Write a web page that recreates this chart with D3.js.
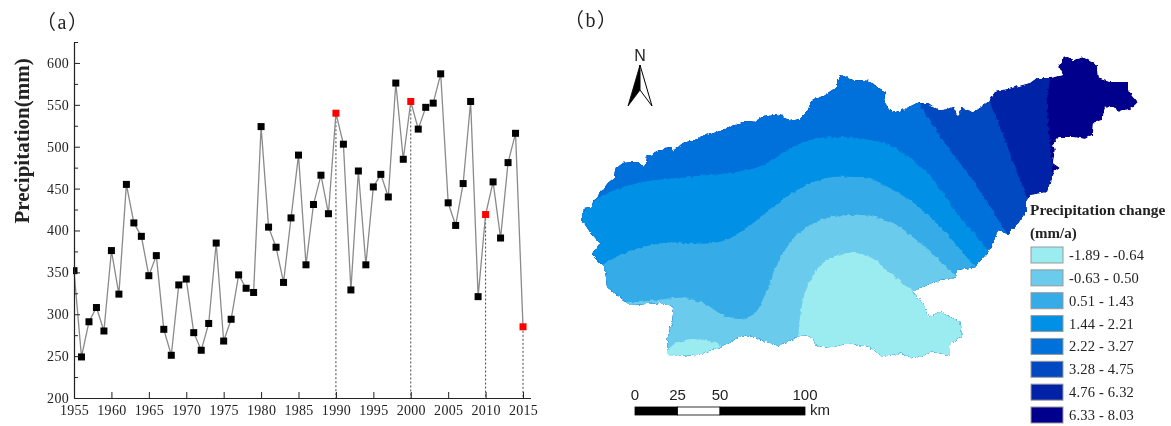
<!DOCTYPE html>
<html>
<head>
<meta charset="UTF-8">
<style>
  html,body{margin:0;padding:0;background:#fff;}
  svg{display:block;}
  text{fill:#222;}
  .serif{font-family:"Liberation Serif","Noto Sans CJK SC",serif;}
  .sans{font-family:"Liberation Sans",sans-serif;}
</style>
<script src="https://d3js.org/d3.v7.min.js"></script>
</head>
<body>
<div id="viz"></div>
<script>
// (a) annual precipitation
const years = d3.range(1955, 2016);
const precipitation = [352,249,291,308,280,376,324,455,409,393,346,370,282,251,335,342,278,257,289,385,
  268,294,347,331,326,524,404,380,338,415,490,359,431,466,420,540,503,329,471,359,
  452,467,440,576,485,554,521,547,552,587,433,406,456,554,321,419,458,391,481,516,285];
const markedYears = [1990, 2000, 2010, 2015];
const xTicks = d3.range(1955, 2016, 5);
const yTicks = d3.range(200, 601, 50);
const yMinorTicks = d3.range(225, 626, 50);

// (b) map, digitised in grid units (east, south), 1.7 units to the km
const basinOutline = [[2,170],[4,158],[12,157],[13,152],[20,143],[28,133],[35,127],[37,117],[42,113],[57,112],[62,117],[66,115],[67,107],[77,101],[90,98],[93,101],[103,93],[118,89],[125,83],[128,85],[143,80],[165,71],[177,72],[180,67],[193,64],[200,65],[210,71],[220,69],[227,62],[232,50],[243,46],[257,37],[257,32],[261,25],[273,30],[290,31],[297,37],[306,42],[303,50],[312,63],[323,60],[337,53],[348,53],[360,61],[373,57],[378,67],[382,58],[393,62],[408,52],[415,42],[432,38],[450,33],[457,28],[470,28],[483,25],[478,17],[485,5],[493,10],[503,7],[517,15],[518,28],[530,32],[547,32],[550,42],[558,52],[552,58],[540,62],[532,57],[525,58],[522,70],[513,73],[512,85],[505,89],[493,87],[478,87],[473,93],[475,100],[473,113],[480,118],[473,123],[467,142],[450,145],[445,153],[447,160],[437,175],[427,185],[418,180],[413,193],[408,202],[395,217],[377,220],[377,227],[360,230],[343,237],[332,242],[343,253],[348,267],[360,262],[380,272],[382,287],[370,293],[370,305],[353,302],[333,308],[320,303],[303,307],[290,297],[268,293],[250,298],[235,295],[233,287],[223,285],[197,296],[187,292],[167,285],[157,288],[140,297],[117,305],[90,306],[87,302],[88,287],[92,273],[94,258],[80,253],[50,255],[27,237],[25,218],[12,205],[20,193],[10,182]];

// class boundaries, each one with the corners that close its band off the map
const contour632 = [[470,0],[470,28],[467,53],[472,110],[472,120]];
const closing632 = [[472,330],[-10,330],[-10,-10],[470,-10]];
const contour475 = [[405,40],[410,52],[420,77],[447,148],[452,160]];
const closing475 = [[452,330],[-10,330],[-10,-10],[405,-10]];
const contour327 = [[330,40],[338,53],[363,90],[397,137],[428,185],[435,195]];
const closing327 = [[435,330],[-10,330],[-10,-10],[330,-10]];
const contour221 = [[0,165],[12,153],[30,142],[57,133],[107,127],[157,122],[183,115],[207,100],[230,90],[257,87],[290,90],[313,97],[347,123],[380,167],[410,202],[420,215]];
const closing221 = [[420,330],[-10,330],[-10,165]];
const contour143 = [[15,222],[23,215],[47,202],[83,193],[133,193],[157,185],[183,165],[217,140],[247,128],[273,127],[290,128],[300,133],[330,150],[363,180],[395,217],[402,225]];
const closing143 = [[402,330],[-10,330],[-10,222]];
const contour050 = [[60,252],[78,250],[103,248],[123,253],[143,265],[160,269],[175,263],[187,240],[203,203],[223,180],[250,167],[273,165],[290,166],[313,173],[340,193],[377,227],[385,235]];
const closing050 = [[385,330],[-10,330],[-10,252]];
const contourLobe = [[217,310],[218,290],[220,267],[227,237],[243,213],[267,203],[290,207],[310,223],[332,240],[345,250]];
const closingLobe = [[420,250],[420,330],[217,330]];
const contourWest = [[80,310],[86,303],[93,295],[113,289],[140,295],[146,300]];
const closingWest = [[146,330],[80,330]];

const legendLabels = ["-1.89 - -0.64","-0.63 - 0.50","0.51 - 1.43","1.44 - 2.21","2.22 - 3.27","3.28 - 4.75","4.76 - 6.32","6.33 - 8.03"];
const legendColors = ["#9aecf0","#6bcbed","#35ace8","#0590e6","#0470da","#0449c0","#0222a6","#00008c"];
const scaleKm = [0, 25, 50, 100];

const svg = d3.select("#viz").append("svg").attr("width", 1171).attr("height", 426);

// the scan is soft and the coast is toothy
const defs = svg.append("defs");
defs.append("filter").attr("id", "soft")
  .append("feGaussianBlur").attr("stdDeviation", 0.35);
const rough = defs.append("filter").attr("id", "rough")
    .attr("filterUnits", "userSpaceOnUse")
    .attr("x", 570).attr("y", 40).attr("width", 590).attr("height", 340);
rough.append("feTurbulence").attr("type", "fractalNoise").attr("baseFrequency", 0.22)
    .attr("numOctaves", 2).attr("seed", 4).attr("result", "n");
rough.append("feDisplacementMap").attr("in", "SourceGraphic").attr("in2", "n")
    .attr("scale", 4).attr("xChannelSelector", "R").attr("yChannelSelector", "G");

const root = svg.append("g").attr("filter", "url(#soft)");

// ---- panel a
const x = d3.scaleLinear().domain([1955, 2016]).range([74, 530.5]);
const y = d3.scaleLinear().domain([200, 625]).range([398, 42]);
const a = root.append("g");

a.append("text").attr("class", "serif").attr("x", 36).attr("y", 29)
    .attr("font-size", 20).attr("letter-spacing", 1.5).text("（a）");

a.append("text").attr("class", "serif")
    .attr("transform", "translate(29,141) rotate(-90)")
    .attr("text-anchor", "middle").attr("font-size", 21).attr("font-weight", "bold")
    .text("Precipitation(mm)");

a.append("defs").append("clipPath").attr("id", "plot")
  .append("rect").attr("x", 73).attr("y", 30).attr("width", 470).attr("height", 380);

a.selectAll(".drop").data(markedYears).join("line")
    .attr("class", "drop")
    .attr("x1", d => x(d)).attr("x2", d => x(d))
    .attr("y1", d => y(precipitation[years.indexOf(d)])).attr("y2", y(200))
    .attr("stroke", "#444").attr("stroke-width", 1).attr("stroke-dasharray", "2,2");

const plot = a.append("g").attr("clip-path", "url(#plot)");
plot.append("path").datum(precipitation)
    .attr("fill", "none").attr("stroke", "#8a8a8a").attr("stroke-width", 1.3)
    .attr("d", d3.line().x((d, i) => x(years[i])).y(d => y(d)));
plot.selectAll("rect").data(precipitation).join("rect")
    .attr("x", (d, i) => x(years[i]) - 3.5).attr("y", d => y(d) - 3.5)
    .attr("width", 7).attr("height", 7)
    .attr("fill", (d, i) => markedYears.includes(years[i]) ? "#f00" : "#000");

const gx = a.append("g").attr("transform", `translate(0,${y(200)})`)
    .call(d3.axisBottom(x).tickValues(xTicks).tickFormat(d3.format("d")).tickSize(-6).tickSizeOuter(0).tickPadding(7));
const gy = a.append("g").attr("transform", `translate(${x(1955)},0)`)
    .call(d3.axisLeft(y).tickValues(yTicks).tickSize(-6).tickSizeOuter(0).tickPadding(5));
a.append("g").attr("transform", `translate(${x(1955)},0)`)
    .call(d3.axisLeft(y).tickValues(yMinorTicks).tickFormat("").tickSize(-4).tickSizeOuter(0))
    .select(".domain").remove();
a.selectAll(".domain").attr("stroke", "#222").attr("stroke-width", 1.2);
a.selectAll(".tick line").attr("stroke", "#222").attr("stroke-width", 1);
[gx, gy].forEach(g => g.selectAll("text")
    .attr("class", "serif").attr("font-size", 14).attr("letter-spacing", 0.3).style("fill", "#222"));

// ---- panel b
const gridX = d3.scaleLinear().domain([0, 591]).range([580, 1171]);
const gridY = d3.scaleLinear().domain([0, 376]).range([50, 426]);
const b = root.append("g");

b.append("text").attr("class", "serif").attr("x", 564).attr("y", 27)
    .attr("font-size", 20).attr("letter-spacing", 1.5).text("（b）");

const ring = d3.line().x(d => gridX(d[0])).y(d => gridY(d[1]));
const smooth = d3.line().x(d => gridX(d[0])).y(d => gridY(d[1])).curve(d3.curveCatmullRom);
const band = (contour, closing) => smooth(contour) + ring(closing).replace("M", "L") + "Z";

b.append("defs").append("clipPath").attr("id", "basin")
  .append("path").attr("d", ring(basinOutline) + "Z");

const map = b.append("g").attr("filter", "url(#rough)").append("g").attr("clip-path", "url(#basin)");
map.append("path").attr("d", ring(basinOutline) + "Z").attr("fill", legendColors[7]);
const bands = [
  [contour632, closing632, 6],
  [contour475, closing475, 5],
  [contour327, closing327, 4],
  [contour221, closing221, 3],
  [contour143, closing143, 2],
  [contour050, closing050, 1],
  [contourLobe, closingLobe, 0],
  [contourWest, closingWest, 0]
];
map.selectAll(".band").data(bands).join("path")
    .attr("class", "band")
    .attr("d", d => band(d[0], d[1]))
    .attr("fill", d => legendColors[d[2]]);

// north arrow
const north = b.append("g").attr("transform", "translate(640,0)");
north.append("text").attr("class", "sans").attr("text-anchor", "middle")
    .attr("y", 61).attr("font-size", 16).text("N");
north.append("path").attr("d", "M0,65L-12,106L0,90Z").attr("fill", "#000").attr("stroke", "#000").attr("stroke-width", 0.8);
north.append("path").attr("d", "M0,65L12,106L0,90Z").attr("fill", "#fff").attr("stroke", "#000").attr("stroke-width", 1);

// scale bar
const km = d3.scaleLinear().domain([0, 100]).range([635, 805]);
const bar = b.append("g");
bar.selectAll("rect").data(d3.pairs(scaleKm)).join("rect")
    .attr("x", d => km(d[0])).attr("y", 407)
    .attr("width", d => km(d[1]) - km(d[0])).attr("height", 8)
    .attr("fill", (d, i) => i === 1 ? "#fff" : "#000")
    .attr("stroke", "#000").attr("stroke-width", 0.8);
bar.selectAll("text").data(scaleKm).join("text")
    .attr("class", "sans").attr("text-anchor", "middle")
    .attr("x", d => km(d)).attr("y", 400).attr("font-size", 15).text(d => d);
bar.append("text").attr("class", "sans").attr("x", 810).attr("y", 415).attr("font-size", 15).text("km");

// legend
const legend = b.append("g");
legend.append("text").attr("class", "serif").attr("x", 1030).attr("y", 215)
    .attr("font-size", 15.4).attr("font-weight", "bold").text("Precipitation change");
legend.append("text").attr("class", "serif").attr("x", 1030).attr("y", 238)
    .attr("font-size", 15).attr("font-weight", "bold").text("(mm/a)");
const row = d3.scalePoint().domain(legendLabels).range([247, 407]);
legend.selectAll("rect").data(legendLabels).join("rect")
    .attr("x", 1031).attr("y", d => row(d)).attr("width", 32).attr("height", 16)
    .attr("fill", (d, i) => legendColors[i]).attr("stroke", "#999").attr("stroke-width", 1);
legend.selectAll(".lab").data(legendLabels).join("text")
    .attr("class", "lab serif").attr("x", 1069).attr("y", d => row(d) + 13)
    .attr("font-size", 14.5).attr("letter-spacing", 0.2).text(d => d);
</script>
</body>
</html>
